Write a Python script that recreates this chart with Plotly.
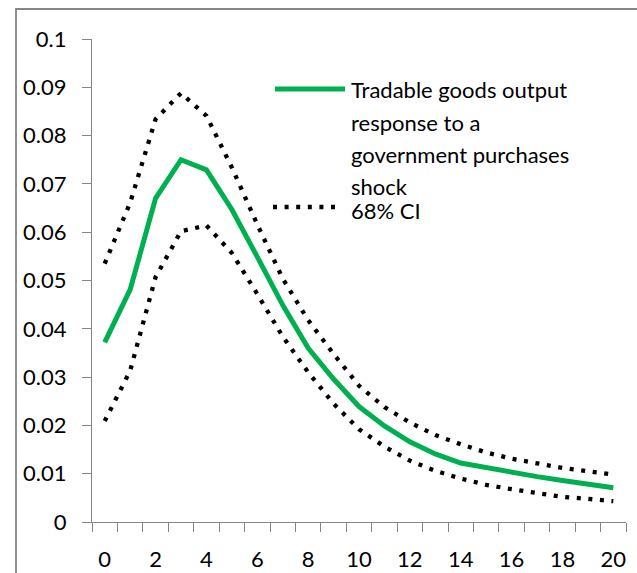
import plotly.graph_objects as go

# Impulse response horizons (quarters after the shock)
horizons = list(range(21))

# Point estimate of the tradable goods output response
response = [0.0372, 0.0481, 0.0670, 0.0750, 0.0729, 0.0647, 0.0549, 0.0449,
            0.0360, 0.0296, 0.0239, 0.0199, 0.0166, 0.0141, 0.0122, 0.0112,
            0.0103, 0.0094, 0.0086, 0.0078, 0.0071]

# 68% confidence band
ci_upper = [0.0535, 0.0661, 0.0834, 0.0888, 0.0841, 0.0734, 0.0616, 0.0504,
            0.0418, 0.0348, 0.0282, 0.0238, 0.0206, 0.0180, 0.0161, 0.0144,
            0.0131, 0.0121, 0.0112, 0.0105, 0.0098]
ci_lower = [0.0209, 0.0313, 0.0507, 0.0602, 0.0614, 0.0557, 0.0472, 0.0384,
            0.0310, 0.0245, 0.0192, 0.0156, 0.0127, 0.0106, 0.0090, 0.0077,
            0.0068, 0.0059, 0.0052, 0.0048, 0.0043]

x_ticks = list(range(0, 21, 2))
y_ticks = [0, 0.01, 0.02, 0.03, 0.04, 0.05, 0.06, 0.07, 0.08, 0.09, 0.1]
y_tick_text = ["0", "0.01", "0.02", "0.03", "0.04", "0.05", "0.06", "0.07",
               "0.08", "0.09", "0.1"]

legend_main = ["Tradable goods output", "response to a",
               "government purchases", "shock"]
legend_ci = "68% CI"

GREEN = "#00B050"
AXIS = "#868686"
FONT = "Lato"
DOTS = "4px,7.6px"

W, H = 637, 573
ML, MR, MT, MB = 92, 11, 39, 51
PW, PH = W - ML - MR, H - MT - MB


def px_x(p):
    return (p - ML) / PW


def px_y(p):
    return (H - MB - p) / PH


fig = go.Figure()
fig.add_trace(go.Scatter(x=horizons, y=ci_upper, mode="lines",
                         line=dict(color="black", width=4.3, dash=DOTS),
                         hoverinfo="skip", showlegend=False))
fig.add_trace(go.Scatter(x=horizons, y=ci_lower, mode="lines",
                         line=dict(color="black", width=4.3, dash=DOTS),
                         hoverinfo="skip", showlegend=False))
fig.add_trace(go.Scatter(x=horizons, y=response, mode="lines",
                         line=dict(color=GREEN, width=5),
                         showlegend=False))

shapes = [
    # chart-area frame; its right and bottom edges lie past the page
    dict(type="path", xref="paper", yref="paper",
         path=f"M {px_x(16)},{px_y(600)} L {px_x(16)},{px_y(9)} L {px_x(700)},{px_y(9)}",
         line=dict(color=AXIS, width=1.8)),
    # legend keys
    dict(type="line", xref="paper", yref="paper",
         x0=px_x(275), x1=px_x(345), y0=px_y(89), y1=px_y(89),
         line=dict(color=GREEN, width=5)),
    dict(type="line", xref="paper", yref="paper",
         x0=px_x(273), x1=px_x(340), y0=px_y(207), y1=px_y(207),
         line=dict(color="black", width=4.3, dash=DOTS)),
]

annotations = []
baselines = [97, 129.5, 161, 193]
for txt, b in zip(legend_main, baselines):
    annotations.append(dict(text=txt, xref="paper", yref="paper",
                            x=px_x(349), y=px_y(b - 7), xanchor="left",
                            yanchor="middle", showarrow=False,
                            font=dict(family=FONT, size=22, color="black")))
annotations.append(dict(text=legend_ci, xref="paper", yref="paper",
                        x=px_x(349), y=px_y(217 - 7), xanchor="left",
                        yanchor="middle", showarrow=False,
                        font=dict(family=FONT, size=22, color="black")))

fig.update_layout(
    width=W, height=H,
    margin=dict(l=ML, r=MR, t=MT, b=MB, autoexpand=False),
    paper_bgcolor="white", plot_bgcolor="white",
    font=dict(family=FONT, size=22, color="black"),
    shapes=shapes, annotations=annotations,
    showlegend=False,
)
fig.update_xaxes(
    range=[-0.5, 20.5], tickmode="array", tickvals=x_ticks,
    ticktext=[str(v) for v in x_ticks], ticks="", showgrid=False,
    zeroline=False, showline=True, linecolor=AXIS, linewidth=1.3,
    minor=dict(tick0=-0.5, dtick=1, ticks="outside", ticklen=9,
               tickcolor=AXIS, tickwidth=1.3, showgrid=False),
    ticklabelstandoff=17, automargin=False,
)
fig.update_yaxes(
    range=[0, 0.1], tickmode="array", tickvals=y_ticks, ticktext=y_tick_text,
    ticks="outside", ticklen=9, tickcolor=AXIS, tickwidth=1.3,
    showgrid=False, zeroline=False, showline=True, linecolor=AXIS,
    linewidth=1.3, ticklabelstandoff=11, automargin=False,
)

fig.write_html("out.html")
